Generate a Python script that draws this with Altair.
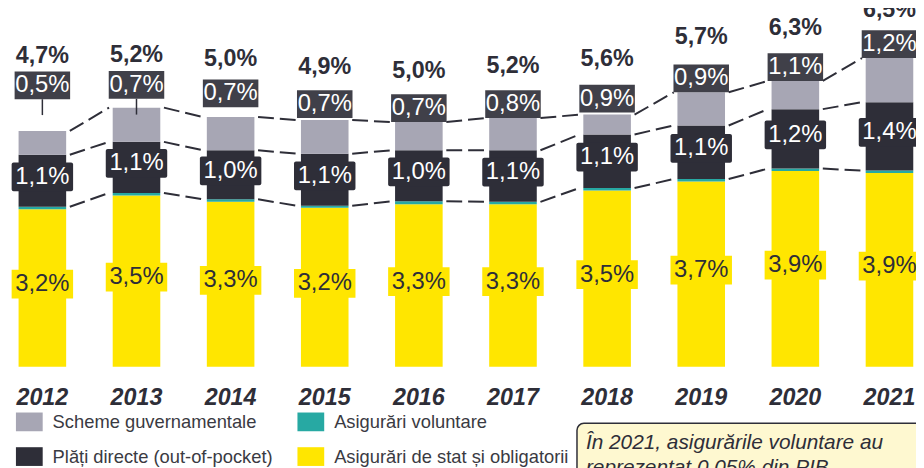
import altair as alt
import pandas as pd

# ---------------- data (% of GDP) ----------------
years = [2012, 2013, 2014, 2015, 2016, 2017, 2018, 2019, 2020, 2021]
gov_schemes = [0.48, 0.69, 0.67, 0.68, 0.57, 0.65, 0.40, 0.67, 0.57, 0.89]
out_of_pocket = [1.05, 1.03, 0.99, 1.05, 1.03, 1.04, 1.08, 1.08, 1.20, 1.38]
voluntary = [0.05, 0.05, 0.05, 0.04, 0.06, 0.05, 0.05, 0.05, 0.05, 0.05]
state_mandatory = [3.18, 3.46, 3.33, 3.21, 3.28, 3.28, 3.56, 3.74, 3.95, 3.91]

total_labels = ["4,7%", "5,2%", "5,0%", "4,9%", "5,0%", "5,2%", "5,6%", "5,7%", "6,3%", "6,5%"]
gov_labels = ["0,5%", "0,7%", "0,7%", "0,7%", "0,7%", "0,8%", "0,9%", "0,9%", "1,1%", "1,2%"]
oop_labels = ["1,1%", "1,1%", "1,0%", "1,1%", "1,0%", "1,1%", "1,1%", "1,1%", "1,2%", "1,4%"]
state_labels = ["3,2%", "3,5%", "3,3%", "3,2%", "3,3%", "3,3%", "3,5%", "3,7%", "3,9%", "3,9%"]

# legend order (column-major: first column, then second column)
series_names = ["Scheme guvernamentale", "Plăți directe (out-of-pocket)",
                "Asigurări voluntare", "Asigurări de stat și obligatorii"]
series_colors = ["#A7A6B4", "#2E2E38", "#27A9A3", "#FFE600"]

annotation_lines = ["În 2021, asigurările voluntare au", "reprezentat 0,05% din PIB"]

# ---------------- layout (pixels) ----------------
W, H = 916, 460
Y_DOM = [-2.0, 7.2]
X_DOM = [2011.6875, 2021.229167]
U = (Y_DOM[1] - Y_DOM[0]) / H      # data units per pixel (y)
XU = (X_DOM[1] - X_DOM[0]) / W     # years per pixel (x)
gov_box_gap_px = [32, 9, 10, 2, 0, 0, 2, 0, 0, 0]
leader_px = [16, 16, 0, 0, 0, 0, 0, 0, 0, 0]
total_gap_px = [16, 16, 21, 23, 23, 24, 26, 28, 25, 20]
FONT = "Liberation Sans"
DARK = "#2E2E38"

xs = alt.Scale(domain=X_DOM, nice=False, zero=False)
ys = alt.Scale(domain=Y_DOM, nice=False, zero=False)

def X(f):
    return alt.X(f, type="quantitative", scale=xs, axis=None)

def Y(f):
    return alt.Y(f, type="quantitative", scale=ys, axis=None)

# ---------------- derived tables ----------------
bar_rows, lab_rows, line_rows, leader_rows = [], [], [], []
tops = []
for i, yr in enumerate(years):
    s1 = state_mandatory[i]
    s2 = s1 + voluntary[i]
    s3 = s2 + out_of_pocket[i]
    s4 = s3 + gov_schemes[i]
    tops.append((s2, s3, s4))
    for name, lo, hi in [("Asigurări de stat și obligatorii", 0, s1),
                         ("Asigurări voluntare", s1, s2),
                         ("Plăți directe (out-of-pocket)", s2, s3),
                         ("Scheme guvernamentale", s3, s4)]:
        bar_rows.append(dict(year=yr, series=name, lo=lo, hi=hi))
    g_lo = s4 + gov_box_gap_px[i] * U
    g_hi = g_lo + 28 * U
    lab_rows.append(dict(
        year=yr,
        g_lo=g_lo, g_hi=g_hi, g_mid=(g_lo + g_hi) / 2, g_txt=gov_labels[i],
        t_mid=g_hi + total_gap_px[i] * U, t_txt=total_labels[i],
        d_mid=(s2 + s3) / 2 + 4 * U, d_txt=oop_labels[i],
        s_mid=s1 / 2 + 4 * U, s_txt=state_labels[i],
    ))
    if leader_px[i]:
        leader_rows.append(dict(year=yr, a=g_lo, b=g_lo - leader_px[i] * U))
for i in range(len(years) - 1):
    for k in range(3):
        line_rows.append(dict(xa=years[i] + 28 * XU, xb=years[i + 1] - 28 * XU,
                              ya=tops[i][k], yb=tops[i + 1][k], lvl=k))

bars = pd.DataFrame(bar_rows)
labs = pd.DataFrame(lab_rows)
lines = pd.DataFrame(line_rows)
leaders = pd.DataFrame(leader_rows)
for c in ["d", "s"]:
    labs[c + "_lo"] = labs[c + "_mid"] - 14.5 * U
    labs[c + "_hi"] = labs[c + "_mid"] + 14.5 * U

# ---------------- layers ----------------
dash = alt.Chart(lines).mark_rule(color=DARK, strokeWidth=2, strokeDash=[16, 6]).encode(
    x=X("xa"), x2="xb", y=Y("ya"), y2="yb")

bar_layer = alt.Chart(bars).mark_bar(size=48).encode(
    x=X("year"), y=Y("lo"), y2="hi",
    color=alt.Color("series:N",
                    scale=alt.Scale(domain=series_names, range=series_colors),
                    legend=alt.Legend(
                        title=None, orient="none", legendX=8, legendY=402, columns=2,
                        symbolType="M-1,-0.7H1V0.7H-1Z", symbolSize=729,
                        symbolStrokeWidth=0, symbolOpacity=1, padding=0,
                        labelFont=FONT, labelFontSize=18.5, labelColor="#3A3A42",
                        labelOffset=10, labelLimit=400, columnPadding=24, rowPadding=12)))

leader_layer = alt.Chart(leaders).mark_rule(color=DARK, strokeWidth=1.5).encode(
    x=X("year"), y=Y("a"), y2="b")

gov_box = alt.Chart(labs).mark_bar(size=56, color="#404049").encode(
    x=X("year"), y=Y("g_lo"), y2="g_hi")
oop_box = alt.Chart(labs).mark_bar(size=62, color=DARK, cornerRadius=2).encode(
    x=X("year"), y=Y("d_lo"), y2="d_hi")
st_box = alt.Chart(labs).mark_bar(size=62, color="#FFE600").encode(
    x=X("year"), y=Y("s_lo"), y2="s_hi")

def txt(field, yfield, color, size=24, weight="normal", style="normal"):
    return alt.Chart(labs).mark_text(font=FONT, fontSize=size, fontWeight=weight,
                                     fontStyle=style, color=color, baseline="middle",
                                     align="center").encode(
        x=X("year"), y=Y(yfield), text=alt.Text(field + ":N"))

gov_txt = txt("g_txt", "g_mid", "#FFFFFF")
oop_txt = txt("d_txt", "d_mid", "#FFFFFF")
st_txt = txt("s_txt", "s_mid", DARK)
tot_txt = txt("t_txt", "t_mid", DARK, size=23.5, weight="bold")

year_txt = alt.Chart(pd.DataFrame({"year": years, "lab": [str(y) for y in years]})).mark_text(
    font=FONT, fontSize=23.5, fontWeight="bold", fontStyle="italic", color=DARK,
    baseline="middle", align="center").encode(
    x=X("year"), y=alt.value(391), text="lab:N")

note_box = alt.Chart(pd.DataFrame({"k": [0]})).mark_rect(
    fill="#FEF8D0", stroke=DARK, strokeWidth=1.5, cornerRadius=7).encode(
    x=alt.value(574), x2=alt.value(940), y=alt.value(417), y2=alt.value(490))
note_txt = alt.Chart(pd.DataFrame({"t": annotation_lines, "yy": [437, 462.5]})).mark_text(
    font=FONT, fontSize=21, fontStyle="italic", color=DARK, align="left",
    baseline="middle").encode(
    x=alt.value(583), y=alt.Y("yy:Q", scale=None, axis=None), text="t:N")

chart = alt.layer(
    dash, bar_layer, leader_layer, gov_box, oop_box, st_box,
    gov_txt, oop_txt, st_txt, tot_txt, year_txt, note_box, note_txt
).properties(
    width=W, height=H, padding=0,
    autosize=alt.AutoSizeParams(type="none"),
    background="white",
).configure_view(stroke=None)

chart.save("out.html", embed_options={"renderer": "svg", "actions": False})
